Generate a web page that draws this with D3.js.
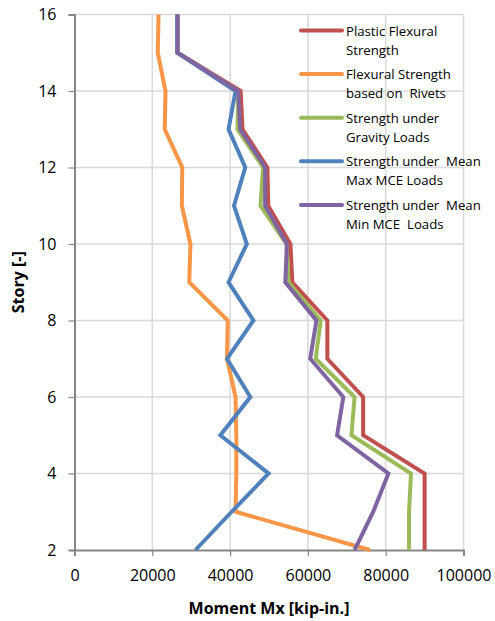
<!DOCTYPE html>
<html>
<head>
<meta charset="utf-8">
<script src="https://cdn.jsdelivr.net/npm/d3@7"></script>
<style>
  body { margin: 0; background: #fff; }
  text { font-family: "Open Sans", sans-serif; fill: #000; }
</style>
</head>
<body>
<div id="chart"></div>
<script>
// stories 2..16
var stories = [2, 3, 4, 5, 6, 7, 8, 9, 10, 11, 12, 13, 14, 15, 16];

var plastic = [90000, 90000, 90000, 74200, 74200, 65000, 65000, 56000, 55500, 49800, 49600, 43200, 42700, 26500, 26500];
var rivets  = [76000, 41400, 41600, 41600, 41400, 39200, 39400, 29500, 29800, 27600, 27700, 23200, 23400, 21400, 21600];
var gravity = [86000, 86000, 86500, 71200, 72000, 62000, 63300, 55000, 54500, 47800, 48500, 41900, 42100, 26500, 26500];
var maxMCE  = [31100, 40400, 49900, 37500, 45200, 39200, 46000, 39600, 44300, 41000, 43900, 39600, 41400, 26400, 26400];
var minMCE  = [72000, 76800, 80700, 67500, 69100, 60600, 62200, 54200, 54600, 49000, 49000, 42600, 42100, 26500, 26500];

var seriesNames = [
  ["Plastic Flexural", "Strength"],
  ["Flexural Strength", "based on  Rivets"],
  ["Strength under", "Gravity Loads"],
  ["Strength under  Mean", "Max MCE Loads"],
  ["Strength under  Mean", "Min MCE  Loads"]
];
var seriesColors = ["#C0504D", "#F79646", "#9BBB59", "#4F81BD", "#8064A2"];
var seriesValues = [plastic, rivets, gravity, maxMCE, minMCE];

var xTicks = [0, 20000, 40000, 60000, 80000, 100000];
var yTicks = [2, 4, 6, 8, 10, 12, 14, 16];

var width = 495,
    height = 621;

var svg = d3.select("#chart")
  .append("svg")
  .attr("width", width)
  .attr("height", height);

var x = d3.scaleLinear().domain([0, 100000]).range([74.5, 463.5]);
var y = d3.scaleLinear().domain([2, 16]).range([550, 14.5]);

// gridlines
svg.append("g")
  .selectAll("line.vg")
  .data(xTicks.slice(1))
  .enter().append("line")
  .attr("x1", function(d) { return x(d); })
  .attr("x2", function(d) { return x(d); })
  .attr("y1", y(2))
  .attr("y2", y(16))
  .attr("stroke", "#d9d9d9")
  .attr("stroke-width", 1.5);

svg.append("g")
  .selectAll("line.hg")
  .data(yTicks.slice(1))
  .enter().append("line")
  .attr("x1", x(0))
  .attr("x2", x(100000))
  .attr("y1", function(d) { return y(d); })
  .attr("y2", function(d) { return y(d); })
  .attr("stroke", "#d9d9d9")
  .attr("stroke-width", 1.5);

// axes
var xAxis = svg.append("g")
  .attr("transform", "translate(0," + y(2) + ")")
  .call(d3.axisBottom(x).tickValues(xTicks).tickSize(6).tickPadding(14).tickFormat(d3.format("d")));

var yAxis = svg.append("g")
  .attr("transform", "translate(" + x(0) + ",0)")
  .call(d3.axisLeft(y).tickValues(yTicks).tickSize(6).tickPadding(12));

[xAxis, yAxis].forEach(function(a) {
  a.select(".domain").attr("stroke", "#868686").attr("stroke-width", 2);
  a.selectAll(".tick line").attr("stroke", "#868686").attr("stroke-width", 1.2);
  a.selectAll(".tick text")
    .style("font-family", "'Open Sans', sans-serif")
    .style("font-size", "16px")
    .attr("fill", "#000");
});
xAxis.selectAll(".tick text").attr("dy", "0.71em");

// lines
var line = d3.line()
  .x(function(d) { return x(d[1]); })
  .y(function(d) { return y(d[0]); });

seriesValues.forEach(function(vals, i) {
  var pts = stories.map(function(s, j) { return [s, vals[j]]; });
  svg.append("path")
    .datum(pts)
    .attr("fill", "none")
    .attr("stroke", seriesColors[i])
    .attr("stroke-width", 4)
    .attr("stroke-linejoin", "miter")
    .attr("d", line);
});

// axis titles
svg.append("text")
  .attr("x", (x(0) + x(100000)) / 2)
  .attr("y", 614)
  .attr("text-anchor", "middle")
  .style("font-size", "16px")
  .style("font-weight", "bold")
  .text("Moment Mx [kip-in.]");

svg.append("text")
  .attr("transform", "translate(24," + ((y(2) + y(16)) / 2) + ") rotate(-90)")
  .attr("text-anchor", "middle")
  .style("font-size", "16px")
  .style("font-weight", "bold")
  .text("Story [-]");

// legend
var legend = svg.append("g");
seriesNames.forEach(function(name, i) {
  var ly = 30.5 + i * 43.6;
  legend.append("line")
    .attr("x1", 301).attr("x2", 342)
    .attr("y1", ly).attr("y2", ly)
    .attr("stroke", seriesColors[i])
    .attr("stroke-width", 4)
    .attr("stroke-linecap", "round");
  var t = legend.append("text")
    .attr("x", 346)
    .attr("y", ly + 5)
    .style("font-size", "13.2px")
    .style("white-space", "pre");
  t.append("tspan").attr("x", 346).text(name[0]);
  t.append("tspan").attr("x", 346).attr("dy", 19).text(name[1]);
});
</script>
</body>
</html>
